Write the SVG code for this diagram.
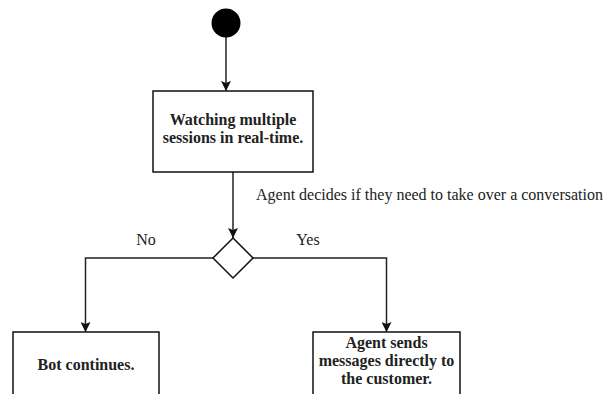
<svg xmlns="http://www.w3.org/2000/svg" width="606" height="394" viewBox="0 0 606 394">
  <style>
    .node { fill: #ffffff; stroke: #111111; stroke-width: 1.5; }
    .edge { fill: none; stroke: #222222; stroke-width: 1.5; }
    .label { font-family: "Liberation Serif", "Times New Roman", serif; font-size: 16px; fill: #222222; }
    .title { font-family: "Liberation Serif", "Times New Roman", serif; font-size: 16px; font-weight: bold; fill: #222222; text-anchor: middle; }
  </style>
  <defs>
    <marker id="arrow" viewBox="0 0 10 10" refX="10" refY="5" markerWidth="10" markerHeight="10" markerUnits="userSpaceOnUse" orient="auto">
      <path d="M0,0 L10,5 L0,10 L2,5 Z" fill="#111111"/>
    </marker>
  </defs>

  <rect width="606" height="394" fill="#ffffff"/>

  <!-- connectors -->
  <g id="connectors">
    <path class="edge" d="M226,37 L226,91" marker-end="url(#arrow)"/>
    <path class="edge" d="M233,172 L233,238" marker-end="url(#arrow)"/>
    <path class="edge" d="M213,258 L85.5,258 L85.5,332" marker-end="url(#arrow)"/>
    <path class="edge" d="M253,258 L386.5,258 L386.5,332" marker-end="url(#arrow)"/>
    <text class="label" x="256" y="200">Agent decides if they need to take over a conversation</text>
    <text class="label" x="146" y="245" text-anchor="middle">No</text>
    <text class="label" x="308" y="245" text-anchor="middle">Yes</text>
  </g>

  <!-- start -->
  <g id="start">
    <circle cx="226" cy="23" r="14.5" fill="#000000"/>
  </g>

  <!-- watching sessions -->
  <g id="watching">
    <rect class="node" x="153" y="91" width="160" height="81"/>
    <text class="title" x="233" y="125">Watching multiple</text>
    <text class="title" x="233" y="143">sessions in real-time.</text>
  </g>

  <!-- decision -->
  <g id="decision">
    <path class="node" d="M233,238 L253,258 L233,278 L213,258 Z"/>
  </g>

  <!-- bot continues -->
  <g id="bot">
    <rect class="node" x="13" y="332" width="146" height="80"/>
    <text class="title" x="86" y="370">Bot continues.</text>
  </g>

  <!-- agent takes over -->
  <g id="agent">
    <rect class="node" x="313" y="332" width="147" height="80"/>
    <text class="title" x="386.5" y="348">Agent sends</text>
    <text class="title" x="386.5" y="366">messages directly to</text>
    <text class="title" x="386.5" y="384">the customer.</text>
  </g>
</svg>
